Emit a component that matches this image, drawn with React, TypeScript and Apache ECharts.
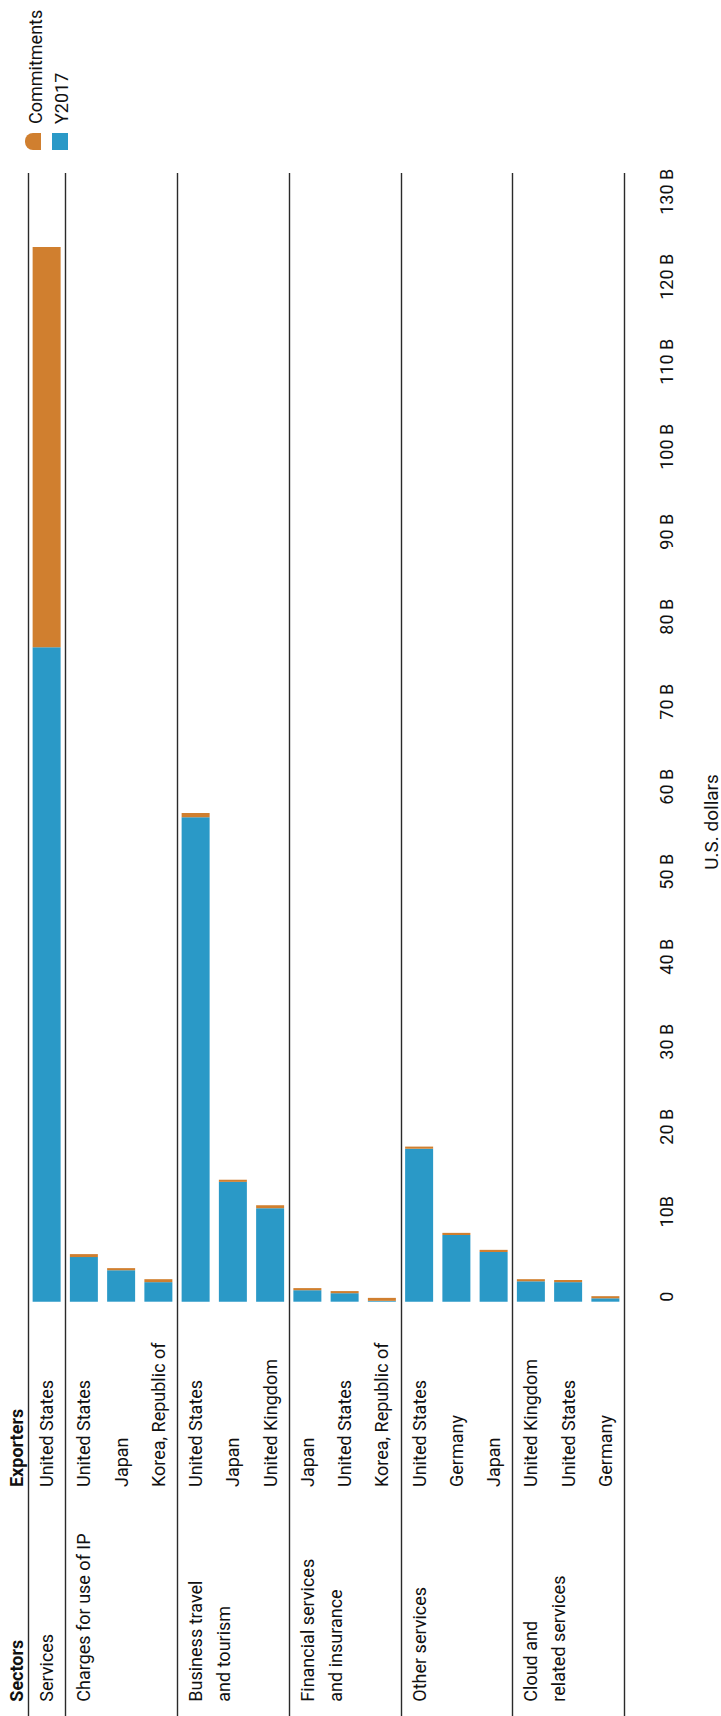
import React, { useEffect, useRef } from 'react';
import * as echarts from 'echarts';

// Sector groups (in display order) and how many exporters each holds
const sectors = [
  'Services',
  'Charges for use of IP',
  'Business travel\nand tourism',
  'Financial services\nand insurance',
  'Other services',
  'Cloud and\nrelated services',
];
const sectorSizes = [1, 3, 3, 3, 3, 3];

const exporters = [
  'United States',
  'United States', 'Japan', 'Korea, Republic of',
  'United States', 'Japan', 'United Kingdom',
  'Japan', 'United States', 'Korea, Republic of',
  'United States', 'Germany', 'Japan',
  'United Kingdom', 'United States', 'Germany',
];

// Values in billions of U.S. dollars
const y2017 = [77.0, 5.25, 3.7, 2.3, 57.0, 14.1, 11.0, 1.35, 1.0, 0.1, 18.0, 7.85, 5.85, 2.4, 2.3, 0.4];
const commitments = [47.1, 0.35, 0.25, 0.35, 0.5, 0.25, 0.35, 0.25, 0.25, 0.35, 0.25, 0.25, 0.25, 0.25, 0.25, 0.25];

const valueTicks = ['0', '10B', '20 B', '30 B', '40 B', '50 B', '60 B', '70 B', '80 B', '90 B', '100 B', '110 B', '120 B', '130 B'];
const valueMax = 132.8;

const seriesNames = ['Commitments', 'Y2017'];
const seriesColors: Record<string, string> = { Commitments: '#D07F2F', Y2017: '#2A99C7' };

const FONT = "Roboto, 'Open Sans', sans-serif";
const INK = '#111';
const LABEL_SIZE = 18;

export default function App() {
  const ref = useRef<HTMLDivElement>(null);

  useEffect(() => {
    const chart = echarts.init(ref.current!, null, { renderer: 'svg' });

    const starts: number[] = [];
    let acc = 0;
    sectorSizes.forEach((s) => { starts.push(acc); acc += s; });
    const sectorLine = (i: number, line: number) => {
      const g = starts.indexOf(i);
      if (g < 0) return '';
      return sectors[g].split('\n')[line] ?? '';
    };
    const keys = exporters.map((_, i) => String(i));
    const bounds = [...starts.map((s) => [s, -1]), [exporters.length - 1, 1]];

    const hidden = { show: false };
    const noLine = { show: false, onZero: false };
    const headerStyle = {
      fontSize: LABEL_SIZE, fontWeight: 'bold', color: INK, fontFamily: FONT, align: 'left', verticalAlign: 'middle',
    };
    const rowLabel = (formatter: (v: string, i: number) => string, extra: any = {}) => ({
      interval: 0, rotate: 90, margin: 0, align: 'left', verticalAlign: 'middle',
      fontSize: LABEL_SIZE, color: INK, fontFamily: FONT, formatter, ...extra,
    });

    const option: any = {
      animation: false,
      textStyle: { fontFamily: FONT },
      grid: [
        // plot area
        { left: 28, right: 97, top: 173, bottom: 414.3, containLabel: false, outerBoundsMode: 'none' },
        // value-axis labels sit a few pixels ahead of their ticks
        { left: 28, right: 97, top: 168, bottom: 419.3, containLabel: false, outerBoundsMode: 'none' },
      ],
      xAxis: [
        { gridIndex: 0, type: 'category', data: keys, position: 'bottom', axisLine: noLine, axisTick: hidden, axisLabel: hidden, splitLine: hidden },
        {
          gridIndex: 0, type: 'category', data: keys, position: 'bottom', offset: 185.3,
          axisLine: noLine, axisTick: hidden, splitLine: hidden,
          axisLabel: rowLabel((_v, i) => exporters[i]),
          name: 'Exporters', nameLocation: 'start', nameGap: 12, nameRotate: 90, nameTextStyle: headerStyle,
        },
        {
          gridIndex: 0, type: 'category', data: keys, position: 'bottom', offset: 400,
          axisLine: noLine, axisTick: hidden, splitLine: hidden,
          axisLabel: rowLabel((_v, i) => sectorLine(i, 0)),
          name: 'Sectors', nameLocation: 'start', nameGap: 12, nameRotate: 90, nameTextStyle: headerStyle,
        },
        {
          gridIndex: 0, type: 'category', data: keys, position: 'bottom', offset: 400,
          axisLine: noLine, axisTick: hidden, splitLine: hidden,
          axisLabel: rowLabel((_v, i) => sectorLine(i, 1), { verticalAlign: 'top', lineHeight: 56 }),
        },
        { gridIndex: 1, type: 'category', data: keys, show: false },
      ],
      yAxis: [
        {
          gridIndex: 0, type: 'value', position: 'right', min: 0, max: valueMax, interval: 10,
          axisLine: hidden, axisTick: hidden, splitLine: hidden, axisLabel: hidden,
        },
        {
          gridIndex: 1, type: 'value', position: 'right', min: 0, max: valueMax, interval: 10,
          axisLine: hidden, axisTick: hidden, splitLine: hidden,
          axisLabel: {
            rotate: 90, margin: 42, align: 'center', verticalAlign: 'middle',
            fontSize: 18, color: INK, fontFamily: FONT,
            formatter: (v: number) => {
              const k = Math.round(v / 10);
              return Math.abs(v - k * 10) < 1e-6 ? valueTicks[k] ?? '' : '';
            },
          },
        },
      ],
      series: [
        {
          name: 'Y2017', type: 'bar', stack: 'total', data: y2017, barWidth: 28,
          itemStyle: { color: seriesColors.Y2017 }, xAxisIndex: 0, yAxisIndex: 0,
        },
        {
          name: 'Commitments', type: 'bar', stack: 'total', data: commitments, barWidth: 28,
          itemStyle: { color: seriesColors.Commitments }, xAxisIndex: 0, yAxisIndex: 0,
        },
        {
          name: 'separators', type: 'custom', xAxisIndex: 0, yAxisIndex: 0, clip: false,
          data: bounds,
          renderItem: (params: any, api: any) => {
            const i = api.value(0);
            const side = api.value(1);
            const bw = api.size([1, 0])[0];
            const x = Math.round(api.coord([i, 0])[0] + (side * bw) / 2) + 0.5;
            return {
              type: 'line',
              shape: { x1: x, y1: params.coordSys.y, x2: x, y2: api.getHeight() },
              style: { stroke: '#2a2a2a', lineWidth: 1.4 },
            };
          },
        },
      ],
      graphic: [
        {
          type: 'rect', shape: { x: 25, y: 133, width: 16, height: 17, r: [8, 0, 0, 8] },
          style: { fill: seriesColors[seriesNames[0]] },
        },
        {
          type: 'rect', shape: { x: 52, y: 133, width: 16, height: 17 },
          style: { fill: seriesColors[seriesNames[1]] },
        },
        {
          type: 'text', x: 35, y: 124, rotation: Math.PI / 2,
          style: { text: seriesNames[0], fontSize: LABEL_SIZE, fontFamily: FONT, fill: INK, align: 'left', verticalAlign: 'middle' },
        },
        {
          type: 'text', x: 61, y: 124, rotation: Math.PI / 2,
          style: { text: seriesNames[1], fontSize: LABEL_SIZE, fontFamily: FONT, fill: INK, align: 'left', verticalAlign: 'middle' },
        },
        {
          type: 'text', x: 711, y: 822, rotation: Math.PI / 2,
          style: { text: 'U.S. dollars', fontSize: 19, fontFamily: FONT, fill: INK, align: 'center', verticalAlign: 'middle' },
        },
      ],
    };

    chart.setOption(option);
    return () => chart.dispose();
  }, []);

  return (
    <div
      ref={ref}
      style={{ position: 'absolute', left: 0, top: 0, width: 721, height: 1716, background: '#fff' }}
    />
  );
}
